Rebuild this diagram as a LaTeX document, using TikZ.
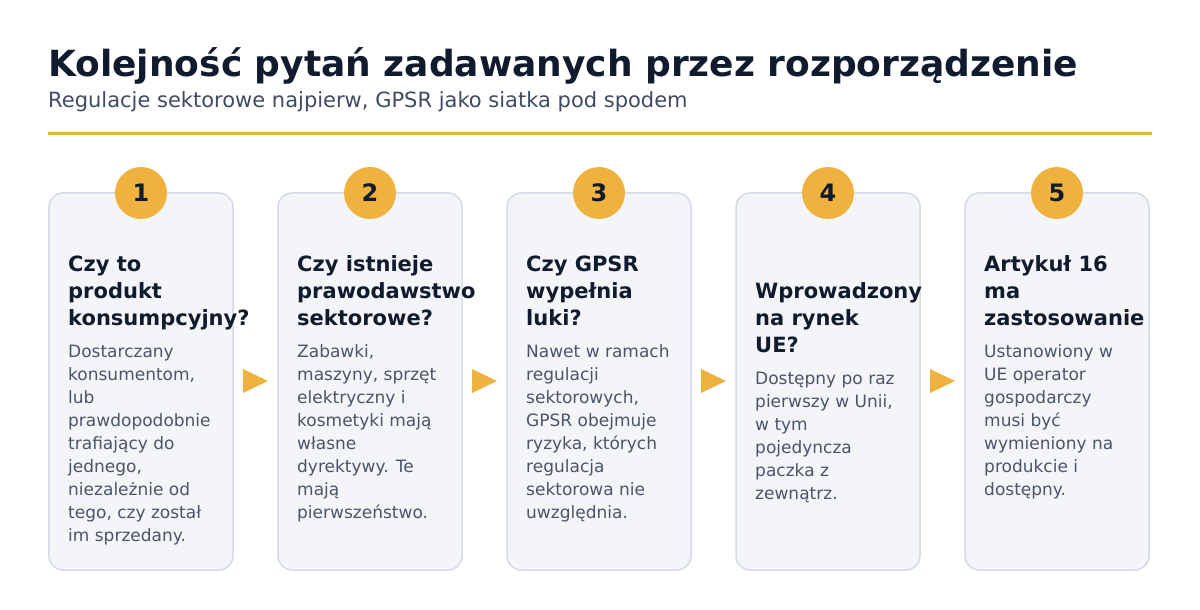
\documentclass[tikz,border=0pt]{standalone}
\usepackage{fontspec}
\setmainfont{DejaVu Sans}
\definecolor{navy}{HTML}{111B2E}
\definecolor{slate}{HTML}{3F4B63}
\definecolor{bodygray}{HTML}{4A5568}
\definecolor{gold}{HTML}{F0B23E}
\definecolor{rulegold}{HTML}{E3B448}
\definecolor{cardfill}{HTML}{F3F5F9}
\definecolor{cardline}{HTML}{D5DBE6}
\tikzset{
  card/.style={draw=cardline, line width=1.5bp, fill=cardfill, rounded corners=14bp,
    minimum width=184bp, minimum height=377bp, inner sep=0pt},
  badge/.style={circle, fill=gold, minimum size=52bp, inner sep=0pt, text=navy,
    font=\fontsize{24bp}{28bp}\selectfont\bfseries},
  head/.style={anchor=base west, align=left, inner sep=0pt, text=navy,
    font=\fontsize{21bp}{27bp}\selectfont\bfseries},
  body/.style={anchor=base west, align=left, inner sep=0pt, text=bodygray,
    font=\fontsize{17bp}{23bp}\selectfont}
}
\begin{document}
\begin{tikzpicture}[x=1bp,y=-1bp]
	\useasboundingbox[fill=white] (0,0) rectangle (1200,610);

	% title
	\node[anchor=base west, inner sep=0pt, text=navy, font=\fontsize{36bp}{40bp}\selectfont\bfseries]
		(title) at (48,77) {Kolejność pytań zadawanych przez rozporządzenie};
	\node[anchor=base west, inner sep=0pt, text=slate, font=\fontsize{21bp}{25bp}\selectfont]
		(subtitle) at (48,108) {Regulacje sektorowe najpierw, GPSR jako siatka pod spodem};
	\draw[rulegold, line width=3bp] (48,134) -- (1152,134);

	% karty z numerami
	\foreach \i in {1,...,5} {
		\pgfmathsetmacro{\cx}{141+229*(\i-1)}
		\node[card] (card\i) at (\cx,381.5) {};
		\node[badge] (num\i) at (\cx,193) {\i};
	}

	% strzalki
	\foreach \i in {1,...,4} {
		\pgfmathsetmacro{\ax}{243+229*(\i-1)}
		\fill[gold] (\ax,369) -- (\ax+25,381) -- (\ax,393) -- cycle;
	}

	% pytanie 1 (base = ostatnia linia)
	\node[head] (q1) at (68,326) {Czy to\\produkt\\konsumpcyjny?};
	\node[body] (t1) at (68,541) {Dostarczany\\konsumentom,\\lub\\prawdopodobnie\\trafiający do\\jednego,\\niezależnie od\\tego, czy został\\im sprzedany.};

	% pytanie 2
	\node[head] (q2) at (297,326) {Czy istnieje\\prawodawstwo\\sektorowe?};
	\node[body] (t2) at (297,518) {Zabawki,\\maszyny, sprzęt\\elektryczny i\\kosmetyki mają\\własne\\dyrektywy. Te\\mają\\pierwszeństwo.};

	% pytanie 3
	\node[head] (q3) at (526,326) {Czy GPSR\\wypełnia\\luki?};
	\node[body] (t3) at (526,518) {Nawet w ramach\\regulacji\\sektorowych,\\GPSR obejmuje\\ryzyka, których\\regulacja\\sektorowa nie\\uwzględnia.};

	% pytanie 4
	\node[head] (q4) at (755,353) {Wprowadzony\\na rynek\\UE?};
	\node[body] (t4) at (755,499) {Dostępny po raz\\pierwszy w Unii,\\w tym\\pojedyncza\\paczka z\\zewnątrz.};

	% pytanie 5
	\node[head] (q5) at (984,326) {Artykuł 16\\ma\\zastosowanie};
	\node[body] (t5) at (984,495) {Ustanowiony w\\UE operator\\gospodarczy\\musi być\\wymieniony na\\produkcie i\\dostępny.};
\end{tikzpicture}
\end{document}
